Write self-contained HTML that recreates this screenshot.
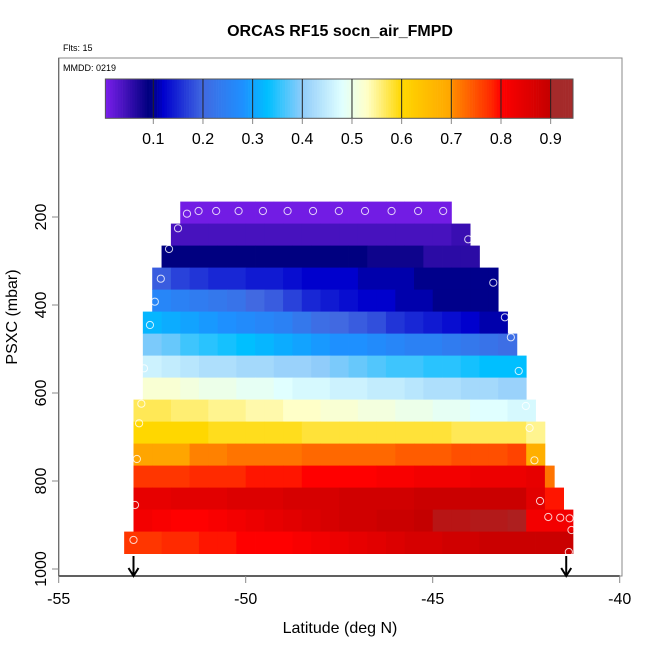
<!DOCTYPE html>
<html><head><meta charset="utf-8">
<style>
html,body{margin:0;padding:0;background:#fff;}
svg{display:block;font-family:"Liberation Sans",sans-serif;}
</style></head>
<body>
<svg id="chart" width="650" height="650" viewBox="0 0 650 650">
  <text x="340" y="36" text-anchor="middle" font-size="16" font-weight="bold">ORCAS RF15 socn_air_FMPD</text>
  <text x="63" y="51" font-size="9">Flts: 15</text>
  <g id="heat"></g>
  <g id="pts"></g>
  <g id="cbar"></g>
  <rect x="58.7" y="58" width="563.3" height="518" fill="none" stroke="#888" stroke-width="1"/>
  <text x="63" y="71" font-size="9">MMDD: 0219</text>
  <g id="axes"></g>
  <text x="340" y="633" text-anchor="middle" font-size="16">Latitude (deg N)</text>
  <text x="0" y="0" transform="translate(17,317) rotate(-90)" text-anchor="middle" font-size="16">PSXC (mbar)</text>
</svg>
<script>
const rowPressures = [190,240,290,340,390,440,490,540,590,640,690,740,790,840,890,940];
const rowStartLat = [-51.75,-52,-52.25,-52.5,-52.5,-52.75,-52.75,-52.75,-52.75,-53,-53,-53,-53,-53,-53,-53.25];
const rowEndLat = [-44.5,-44,-43.75,-43.25,-43.25,-43,-42.75,-42.5,-42.5,-42.25,-42,-42,-41.75,-41.5,-41.25,-41.25];
const rowValues = [
 [0.01,0.01,0.01,0.01,0.01,0.01,0.01,0.01,0.01,0.01,0.01,0.01,0.01,0.01,0.01],
 [0.04,0.04,0.04,0.04,0.04,0.04,0.04,0.04,0.04,0.04,0.04,0.04,0.04,0.04,0.04,0.05],
 [0.09,0.09,0.09,0.09,0.09,0.09,0.09,0.09,0.09,0.09,0.09,0.08,0.08,0.08,0.06,0.06,0.06],
 [0.19,0.17,0.16,0.15,0.15,0.14,0.14,0.13,0.12,0.12,0.12,0.11,0.11,0.11,0.1,0.1,0.1,0.1,0.1],
 [0.26,0.25,0.24,0.23,0.22,0.2,0.19,0.17,0.15,0.14,0.13,0.12,0.12,0.11,0.11,0.1,0.1,0.1,0.1],
 [0.32,0.31,0.3,0.29,0.28,0.27,0.26,0.25,0.23,0.21,0.2,0.19,0.18,0.16,0.15,0.14,0.13,0.12,0.11,0.11],
 [0.39,0.38,0.36,0.35,0.34,0.33,0.32,0.31,0.3,0.29,0.28,0.28,0.27,0.26,0.25,0.25,0.24,0.23,0.22,0.21],
 [0.46,0.45,0.44,0.43,0.43,0.42,0.42,0.41,0.41,0.4,0.39,0.38,0.37,0.36,0.36,0.35,0.35,0.34,0.33,0.33,0.33],
 [0.52,0.52,0.51,0.5,0.5,0.49,0.49,0.48,0.47,0.47,0.46,0.46,0.45,0.45,0.44,0.43,0.43,0.42,0.42,0.41,0.41],
 [0.57,0.57,0.56,0.56,0.55,0.55,0.54,0.54,0.53,0.53,0.52,0.52,0.51,0.51,0.5,0.5,0.49,0.49,0.48,0.48,0.47,0.47],
 [0.6,0.6,0.6,0.6,0.59,0.59,0.59,0.59,0.59,0.58,0.58,0.58,0.58,0.58,0.58,0.58,0.58,0.57,0.57,0.57,0.57,0.55],
 [0.7,0.7,0.7,0.71,0.71,0.72,0.72,0.72,0.72,0.73,0.73,0.73,0.73,0.73,0.74,0.74,0.74,0.75,0.75,0.75,0.76,0.68],
 [0.77,0.77,0.77,0.78,0.78,0.78,0.79,0.79,0.79,0.8,0.8,0.8,0.8,0.81,0.81,0.82,0.82,0.82,0.83,0.83,0.83,0.84,0.72],
 [0.84,0.84,0.85,0.85,0.85,0.86,0.86,0.86,0.87,0.87,0.87,0.88,0.88,0.88,0.88,0.89,0.89,0.89,0.89,0.89,0.89,0.85,0.79],
 [0.82,0.81,0.8,0.8,0.81,0.82,0.83,0.84,0.85,0.86,0.87,0.88,0.88,0.89,0.89,0.9,0.91,0.91,0.92,0.92,0.93,0.82,0.82,0.82],
 [0.77,0.77,0.78,0.78,0.79,0.79,0.8,0.8,0.8,0.81,0.82,0.83,0.84,0.85,0.86,0.87,0.87,0.88,0.88,0.89,0.89,0.89,0.89,0.89]
];
const pointLat = [-51.57,-51.26,-50.79,-50.19,-49.54,-48.88,-48.20,-47.51,-46.81,-46.10,-45.39,-44.72,-51.81,-44.05,-52.05,-52.27,-43.38,-52.43,-43.07,-52.56,-42.91,-52.72,-42.70,-52.79,-42.51,-52.85,-42.41,-52.91,-42.28,-52.96,-42.13,-41.91,-41.59,-41.34,-41.29,-53.0,-41.36];
const pointPres = [192.5,186.4,186.4,186.4,186.4,186.4,186.4,186.4,186.4,186.4,186.4,186.4,225.7,250.7,272.7,340.2,349.3,392.5,428,445.5,473.4,543.9,550,624.3,629.5,668.9,679.5,750,753,854.5,845.5,881.8,883.4,884.8,911.4,934,961.4];
const arrowLats = [-53.0,-41.43];
const xTicks = [-55,-50,-45,-40];
const yTicks = [200,400,600,800,1000];
const cbarTicks = [0.1,0.2,0.3,0.4,0.5,0.6,0.7,0.8,0.9];
const cbarMin = 0.0035, cbarMax = 0.945;

const NS='http://www.w3.org/2000/svg';
const X = lat => 58.7 + (lat + 55) * 37.4;
const Y = p => 217 + (p - 200) * 0.44;
const CX = v => 153.3 + (v - 0.1) * 496.7;

const stops = [[0,'#8020f0'],[0.09,'#000080'],[0.1,'#00008b'],[0.12,'#0000cd'],[0.2,'#4169e1'],[0.28,'#1e90ff'],[0.33,'#00bfff'],[0.4,'#90ccfa'],[0.48,'#e0ffff'],[0.53,'#ffffc8'],[0.6,'#ffd700'],[0.7,'#ffa500'],[0.701,'#ff8c00'],[0.78,'#ff2a00'],[0.8,'#ff0000'],[0.9,'#c40000'],[0.901,'#bc1010'],[0.95,'#a52a2a'],[1,'#a52a2a']];
function hx(c){return [parseInt(c.substr(1,2),16),parseInt(c.substr(3,2),16),parseInt(c.substr(5,2),16)];}
function col(v){
  v=Math.max(0,Math.min(1,v));
  for(let i=0;i<stops.length-1;i++){
    const [a,ca]=stops[i],[b,cb]=stops[i+1];
    if(v>=a&&v<=b){const t=(v-a)/(b-a),A=hx(ca),B=hx(cb);
      return 'rgb('+A.map((q,k)=>Math.round(q+(B[k]-q)*t)).join(',')+')';}
  }
  return stops[stops.length-1][1];
}
function mk(tag,attrs,parent){const e=document.createElementNS(NS,tag);for(const k in attrs)e.setAttribute(k,attrs[k]);parent.appendChild(e);return e;}

const heat=document.getElementById('heat');
rowPressures.forEach((p,r)=>{
  const vals=rowValues[r];
  vals.forEach((v,c)=>{
    const l0=rowStartLat[r]+c*0.5, l1=Math.min(l0+0.5,rowEndLat[r]);
    if(l1<=l0) return;
    const e=mk('rect',{x:X(l0),y:Y(p-25),width:X(l1)-X(l0)+0.4,height:Y(p+25)-Y(p-25)+0.4,fill:col(v)},heat);
    
    
  });
});

const pts=document.getElementById('pts');
pointLat.forEach((lat,i)=>{
  const e=mk('circle',{cx:X(lat),cy:Y(pointPres[i]),r:3.6,fill:'none',stroke:'rgba(255,255,255,0.8)','stroke-width':1},pts);
  
  
});

const cb=document.getElementById('cbar');
const N=190;
for(let i=0;i<N;i++){
  const v0=cbarMin+(cbarMax-cbarMin)*i/N, v1=cbarMin+(cbarMax-cbarMin)*(i+1)/N;
  const vm=(v0+v1)/2;
  const e=mk('rect',{x:CX(v0),y:79,width:CX(v1)-CX(v0)+0.3,height:39.3,fill:vm>0.9?'#a52a2a':col(vm)},cb);
  
  
}
mk('rect',{x:CX(cbarMin),y:79,width:CX(cbarMax)-CX(cbarMin),height:39.3,fill:'none',stroke:'#555','stroke-width':1},cb);
cbarTicks.forEach(t=>{
  const a=mk('line',{x1:CX(t),x2:CX(t),y1:79,y2:118.3,stroke:'#222','stroke-width':1},cb);
  
  
  const l=mk('line',{x1:CX(t),x2:CX(t),y1:118.3,y2:124,stroke:'#888','stroke-width':1},cb);
  
  
  const tx=mk('text',{x:CX(t),y:144,'text-anchor':'middle','font-size':16},cb);
  tx.textContent=t.toFixed(1);
  
  
});

const ax=document.getElementById('axes');
mk('line',{x1:X(-55),x2:X(-40),y1:576,y2:576,stroke:'#000','stroke-width':1.2},ax);
xTicks.forEach(t=>{
  const l=mk('line',{x1:X(t),x2:X(t),y1:576,y2:583,stroke:'#888','stroke-width':1},ax);
  
  
  const tx=mk('text',{x:X(t),y:604,'text-anchor':'middle','font-size':16},ax);
  tx.textContent=t;
  
  
});
mk('line',{x1:58.7,x2:58.7,y1:58,y2:576,stroke:'#666','stroke-width':1.2},ax);
yTicks.forEach(t=>{
  const l=mk('line',{x1:52,x2:58.7,y1:Y(t),y2:Y(t),stroke:'#888','stroke-width':1},ax);
  
  
  const tx=mk('text',{x:0,y:0,transform:'translate(46,'+Y(t)+') rotate(-90)','text-anchor':'middle','font-size':16},ax);
  tx.textContent=t;
  
  
});
arrowLats.forEach(lat=>{
  const g=mk('g',{},ax);
  
  
  mk('line',{x1:X(lat),x2:X(lat),y1:556,y2:575,stroke:'#000','stroke-width':2},g);
  mk('path',{d:'M'+(X(lat)-5)+' 568 L'+X(lat)+' 576 L'+(X(lat)+5)+' 568',fill:'none',stroke:'#000','stroke-width':2},g);
});
</script>
</body></html>
